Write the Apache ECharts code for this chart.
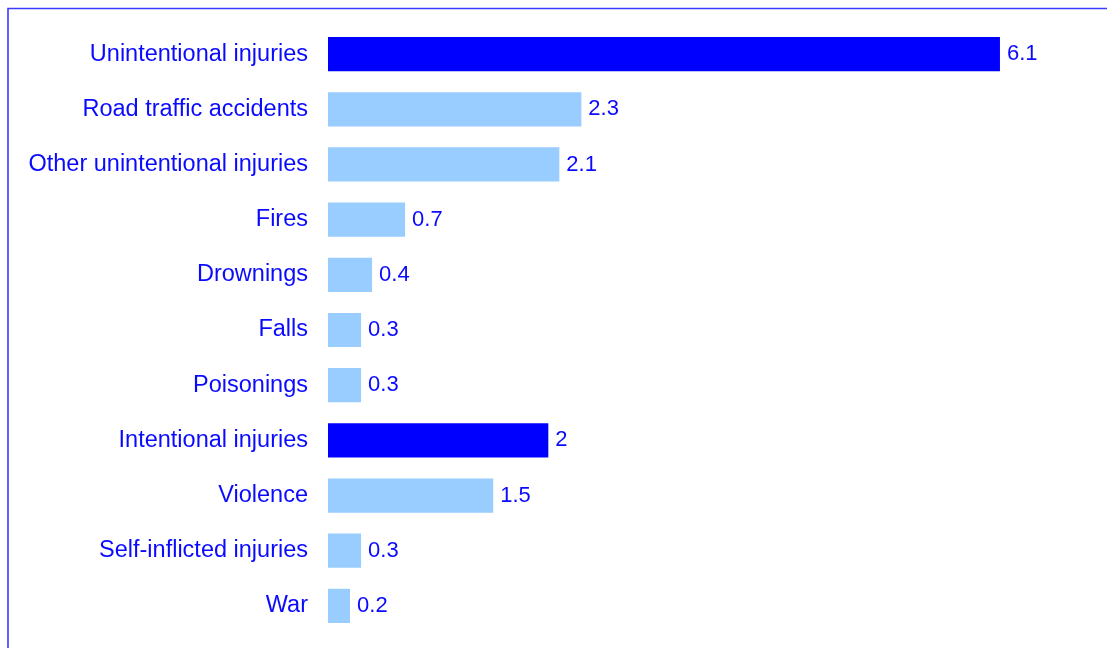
<!DOCTYPE html>
<html>
<head>
<meta charset="utf-8">
<script src="https://cdn.jsdelivr.net/npm/echarts@6/dist/echarts.min.js"></script>
<style>
  html, body { margin: 0; padding: 0; background: #ffffff; }
  #chart { width: 1107px; height: 648px; }
</style>
</head>
<body>
<div id="chart"></div>
<script>
// Injury causes, top to bottom
const categories = [
  'Unintentional injuries',
  'Road traffic accidents',
  'Other unintentional injuries',
  'Fires',
  'Drownings',
  'Falls',
  'Poisonings',
  'Intentional injuries',
  'Violence',
  'Self-inflicted injuries',
  'War'
];
const values = [6.1, 2.3, 2.1, 0.7, 0.4, 0.3, 0.3, 2, 1.5, 0.3, 0.2];
// group totals are drawn in the darker shade
const isGroup = [true, false, false, false, false, false, false, true, false, false, false];

const DARK = '#0000ff';
const LIGHT = '#99ccff';
const TEXT = '#0a0aff';
const FONT = 'Liberation Sans, Arial, sans-serif';

const chart = echarts.init(document.getElementById('chart'), null, { renderer: 'canvas' });

chart.setOption({
  animation: false,
  backgroundColor: '#ffffff',
  graphic: [{
    type: 'polyline',
    shape: { points: [[8, 700], [8, 8.5], [1120, 8.5]] },
    style: { stroke: '#3b3bff', lineWidth: 1.6, fill: null },
    silent: true
  }],
  grid: { left: 328, top: 26.5, width: 771.1, height: 607, containLabel: false },
  xAxis: {
    type: 'value',
    min: 0,
    max: 7,
    show: false
  },
  yAxis: {
    type: 'category',
    data: categories,
    inverse: true,
    axisLine: { show: false },
    axisTick: { show: false },
    splitLine: { show: false },
    axisLabel: {
      margin: 20,
      color: TEXT,
      fontFamily: FONT,
      fontSize: 23.5
    }
  },
  series: [{
    type: 'bar',
    data: values.map((v, i) => ({
      value: v,
      itemStyle: { color: isGroup[i] ? DARK : LIGHT }
    })),
    barWidth: '62%',
    label: {
      show: true,
      position: 'right',
      distance: 7,
      color: TEXT,
      fontFamily: FONT,
      fontSize: 22
    }
  }]
});
</script>
</body>
</html>
